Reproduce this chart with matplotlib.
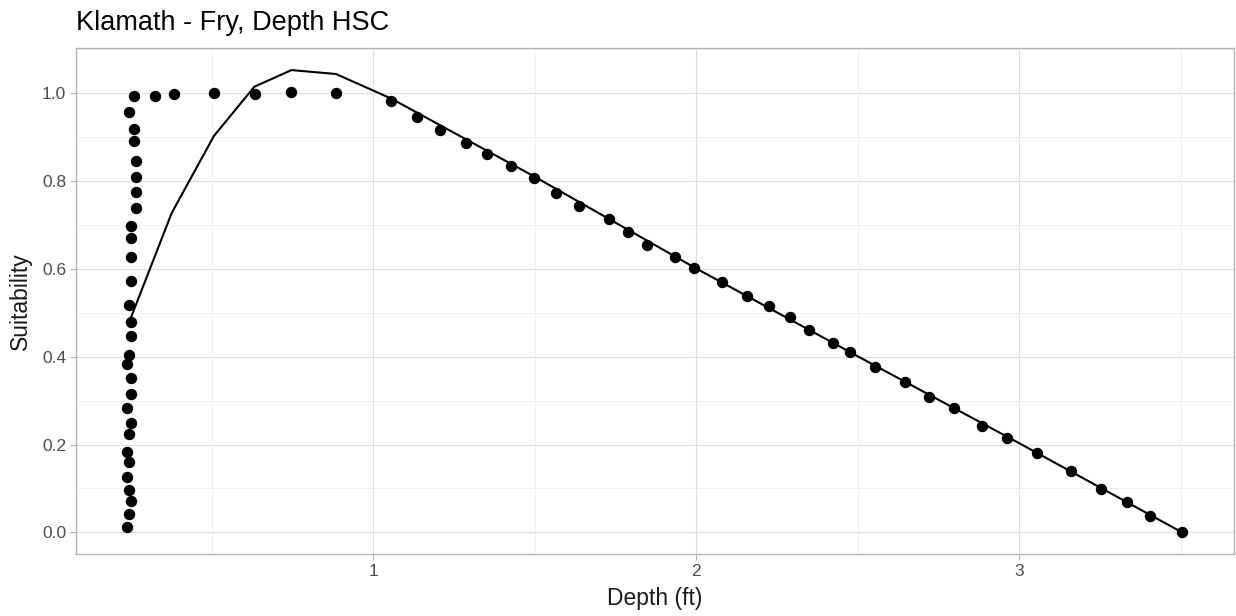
import numpy as np
import matplotlib.pyplot as plt
from matplotlib.ticker import MultipleLocator

plt.rcParams['font.family'] = ['Liberation Sans', 'DejaVu Sans']

# observed HSC points (depth ft, suitability)
depth_pts = [0.238, 0.245, 0.251, 0.245, 0.238, 0.245, 0.238, 0.245, 0.251, 0.238,
             0.251, 0.251, 0.238, 0.245, 0.251, 0.251, 0.245, 0.249, 0.250, 0.250,
             0.250, 0.265, 0.265, 0.265, 0.265, 0.259, 0.259, 0.245, 0.259,
             0.324, 0.383, 0.508, 0.635, 0.747, 0.885,
             1.056, 1.136, 1.208, 1.287, 1.353, 1.426, 1.498, 1.566, 1.637, 1.729,
             1.788, 1.847, 1.934, 1.992, 2.079, 2.157, 2.224, 2.290, 2.350, 2.422,
             2.475, 2.554, 2.646, 2.720, 2.797, 2.884, 2.963, 3.056, 3.161, 3.253,
             3.333, 3.404, 3.504]
suit_pts = [0.013, 0.042, 0.071, 0.096, 0.127, 0.160, 0.182, 0.224, 0.248, 0.284,
            0.314, 0.351, 0.383, 0.405, 0.447, 0.480, 0.518, 0.572, 0.627, 0.670,
            0.698, 0.739, 0.775, 0.810, 0.846, 0.891, 0.919, 0.958, 0.993,
            0.995, 0.998, 1.000, 0.998, 1.002, 1.000,
            0.982, 0.945, 0.916, 0.886, 0.862, 0.835, 0.808, 0.774, 0.744, 0.713,
            0.683, 0.655, 0.628, 0.601, 0.570, 0.539, 0.515, 0.491, 0.461, 0.431,
            0.410, 0.377, 0.342, 0.308, 0.283, 0.243, 0.216, 0.181, 0.139, 0.098,
            0.070, 0.037, 0.000]

# fitted curve
depth_fit = [0.251, 0.376, 0.507, 0.632, 0.747, 0.885, 1.056, 1.5, 2.0, 2.5, 3.0, 3.504]
suit_fit = [0.491, 0.727, 0.903, 1.015, 1.053, 1.044, 0.988, 0.810, 0.601, 0.401, 0.203, 0.0]

fig = plt.figure(figsize=(12.36, 6.16), dpi=100)
ax = fig.add_axes([0.0615, 0.1002, 0.9369, 0.8224])

ax.plot(depth_fit, suit_fit, color='black', linewidth=1.5, zorder=3)
ax.plot(depth_pts, suit_pts, linestyle='none', marker='o', markersize=7.2,
        color='black', zorder=4)

ax.set_xlim(0.08, 3.665)
ax.set_ylim(-0.050, 1.104)
ax.xaxis.set_minor_locator(MultipleLocator(0.5))
ax.yaxis.set_minor_locator(MultipleLocator(0.1))
ax.set_yticks([0.0, 0.2, 0.4, 0.6, 0.8, 1.0])
ax.set_yticklabels(['0.0', '0.2', '0.4', '0.6', '0.8', '1.0'])
ax.set_xticks([1, 2, 3])
ax.set_xticklabels(['1', '2', '3'])

ax.grid(True, which='major', color='#DEDEDE', linewidth=0.8, zorder=0)
ax.grid(True, which='minor', color='#EEEEEE', linewidth=0.6, zorder=0)
ax.set_axisbelow(True)
for s in ax.spines.values():
    s.set_color('#B3B3B3')
    s.set_linewidth(1.0)
ax.tick_params(which='major', length=4, color='#B3B3B3', labelcolor='#4D4D4D',
               labelsize=12.5, pad=3)
ax.tick_params(which='minor', length=0)

ax.set_xlabel('Depth (ft)', fontsize=16.5, color='#1A1A1A', labelpad=6)
ax.set_ylabel('Suitability', fontsize=16.5, color='#1A1A1A', labelpad=7)
ax.set_title('Klamath - Fry, Depth HSC', fontsize=19.5, loc='left', color='black', pad=12.5)

fig.savefig('out.png', dpi=100)
